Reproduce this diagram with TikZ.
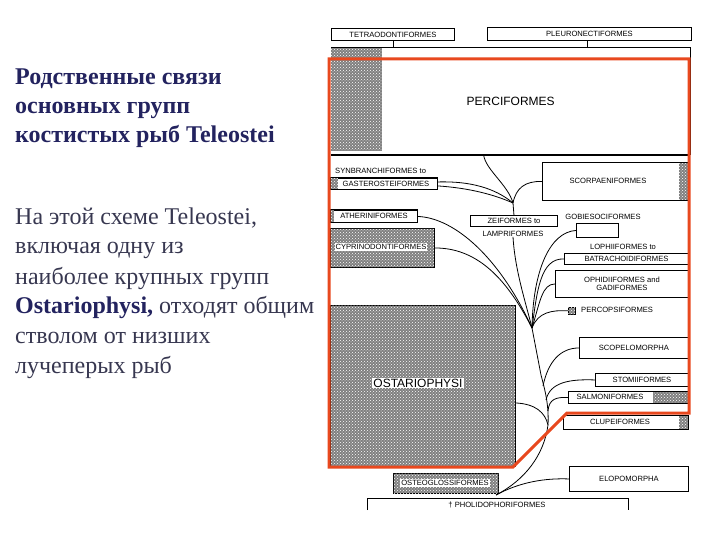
\documentclass[tikz,border=0pt]{standalone}
\usepackage{fontspec}
\setmainfont{Liberation Serif}
\newfontfamily\diagfont{Liberation Sans}
\usetikzlibrary{patterns}
\definecolor{redline}{RGB}{232,72,30}
\definecolor{navy}{RGB}{35,35,95}
\definecolor{bodytxt}{RGB}{55,55,80}
\tikzset{
  box/.style={draw, line width=0.9pt, inner sep=0pt, anchor=north west, align=center,
    font=\diagfont\fontsize{7.6}{8.6}\selectfont},
  hatch/.style={fill=black!50, postaction={pattern=crosshatch dots, pattern color=white}},
  lbl/.style={inner sep=0pt, font=\diagfont\fontsize{7.6}{8.6}\selectfont},
  wlbl/.style={lbl, fill=white, inner sep=1pt},
  branch/.style={line width=0.8pt},
  ttl/.style={anchor=base west, inner sep=0pt, font=\bfseries\fontsize{24}{28}\selectfont, text=navy},
  bodyline/.style={anchor=base west, inner sep=0pt, font=\fontsize{24}{28}\selectfont, text=bodytxt},
}
\begin{document}
\begin{tikzpicture}[x=1pt,y=-1pt]
\useasboundingbox (0,0) rectangle (720,540);

% ---------- left text ----------
\node[ttl] (t1) at (15,85) {Родственные связи};
\node[ttl] (t2) at (15,114) {основных групп};
\node[ttl] (t3) at (15,143) {костистых рыб Teleostei};
\node[bodyline] (b1) at (15,225) {На этой схеме Teleostei,};
\node[bodyline] (b2) at (15,254) {включая одну из};
\node[bodyline] (b3) at (15,284) {наиболее крупных групп};
\node[bodyline] (b4) at (15,313) {\textbf{\color{navy}Ostariophysi,} отходят общим};
\node[bodyline] (b5) at (15,343) {стволом от низших};
\node[bodyline] (b6) at (15,373) {лучеперых рыб};

% ---------- top boxes ----------
\node[box, minimum width=123pt, minimum height=12pt] (tetra) at (331,28) {TETRAODONTIFORMES};
\node[box, minimum width=204pt, minimum height=13pt] (pleuro) at (487,27) {PLEURONECTIFORMES};

% Perciformes
\node[inner sep=0pt, anchor=north west, minimum width=359pt, minimum height=108pt,
      font=\diagfont\fontsize{12}{14}\selectfont] (perc) at (331,47) {PERCIFORMES};
\fill[hatch] (perc.north west) rectangle ++(51,104);
\draw[line width=0.6pt] (perc.north west) -- (perc.north east) -- (perc.south east);
\draw[line width=2pt] (perc.south west) -- (perc.south east);
\draw[line width=0.8pt] (tetra.south) -- (tetra.south |- perc.north);
\draw[line width=0.8pt] ([xshift=-2pt]pleuro.south) -- ([xshift=-2pt]pleuro.south |- perc.north);

% Scorpaeniformes
\node[box, minimum width=146pt, minimum height=38pt] (scorp) at (542,162) {};
\fill[hatch] ([xshift=-10pt]scorp.north east) rectangle (scorp.south east);
\draw[line width=0.9pt] (scorp.north west) rectangle (scorp.south east);
\node[lbl] (scorpl) at (608,181) {SCORPAENIFORMES};

% Gasterosteiformes
\node[lbl, anchor=west] (synbr) at (335,171) {SYNBRANCHIFORMES to};
\node[box, minimum width=107pt, minimum height=11pt] (gaster) at (330,178) {};
\fill[hatch] (gaster.north west) rectangle ([xshift=8pt]gaster.south west);
\draw[line width=1pt] (gaster.north west) rectangle (gaster.south east);
\node[lbl] (gasterl) at (386,184) {GASTEROSTEIFORMES};

% Atheriniformes
\node[box, minimum width=87pt, minimum height=12pt] (ather) at (330,210) {};
\fill[hatch] (ather.north west) rectangle ([xshift=4pt]ather.south west);
\draw[line width=1pt] (ather.north west) rectangle (ather.south east);
\node[lbl] (atherl) at (374,216) {ATHERINIFORMES};

% Cyprinodontiformes
\node[box, hatch, minimum width=104pt, minimum height=39pt] (cypr) at (330,228) {};
\node[wlbl] (cyprl) at (381,247) {CYPRINODONTIFORMES};

% Ostariophysi
\node[box, hatch, minimum width=185pt, minimum height=161pt] (ostar) at (330,305) {};
\node[wlbl, font=\diagfont\fontsize{12}{14}\selectfont] (ostarl) at (418,383) {OSTARIOPHYSI};

% Zeiformes / Lampriformes
\node[box, minimum width=87pt, minimum height=11pt] (zei) at (470,215) {ZEIFORMES to};
\node[lbl] (lampri) at (513,234) {LAMPRIFORMES};

% Gobiesociformes
\node[lbl] (gobiel) at (603,217) {GOBIESOCIFORMES};
\node[box, minimum width=42pt, minimum height=14pt] (gobie) at (576,223) {};

% Lophiiformes / Batrachoidiformes
\node[lbl] (lophi) at (623,247) {LOPHIIFORMES to};
\node[box, minimum width=124pt, minimum height=11pt] (batra) at (564,253) {BATRACHOIDIFORMES};

% Ophidiiformes and Gadiformes
\node[box, minimum width=133pt, minimum height=27pt] (ophid) at (555,270) {OPHIDIIFORMES and\\GADIFORMES};

% Percopsiformes
\node[box, hatch, minimum width=7pt, minimum height=7pt, line width=0.6pt] (percop) at (568,307) {};
\node[lbl, anchor=west] (percopl) at (581,310) {PERCOPSIFORMES};

% Scopelomorpha
\node[box, minimum width=109pt, minimum height=21pt] (scop) at (579,337) {SCOPELOMORPHA};

% Stomiiformes
\node[box, minimum width=93pt, minimum height=13pt] (stomi) at (595,373) {STOMIIFORMES};

% Salmoniformes
\node[box, minimum width=120pt, minimum height=12pt] (salmo) at (568,391) {};
\fill[hatch] ([xshift=-36pt]salmo.north east) rectangle (salmo.south east);
\draw[line width=0.9pt] (salmo.north west) rectangle (salmo.south east);
\node[lbl] (salmol) at (610,397) {SALMONIFORMES};

% Clupeiformes
\node[box, minimum width=125pt, minimum height=14pt] (clupe) at (563,415) {};
\fill[hatch] ([xshift=-10pt]clupe.north east) rectangle (clupe.south east);
\draw[line width=0.9pt] (clupe.north west) rectangle (clupe.south east);
\node[lbl] (clupel) at (620,422) {CLUPEIFORMES};

% Elopomorpha
\node[box, minimum width=119pt, minimum height=25pt] (elopo) at (569,466) {ELOPOMORPHA};

% Osteoglossiformes
\node[box, hatch, minimum width=105pt, minimum height=20pt] (osteo) at (393,473) {};
\node[wlbl] (osteol) at (445,483) {OSTEOGLOSSIFORMES};

% Pholidophoriformes bracket
\coordinate (phl) at (367,510);
\coordinate (phr) at (628,510);
\draw[line width=0.9pt] (phl) -- (367,498) -- (628,498) -- (phr);
\node[lbl] (pholi) at (497,505) {† PHOLIDOPHORIFORMES};

% ---------- tree ----------
\coordinate (b0) at (496,495);
\coordinate (tA) at (548,425);
\coordinate (tS) at (548,411);
\coordinate (tT) at (546,400);
\coordinate (tC) at (543,386);
\coordinate (tB) at (541,375);
\coordinate (n1) at (532,328);
\coordinate (n2) at (513,203);

\draw[branch] (b0) .. controls (525,480) and (544,455) .. (tA)
  .. controls (549,405) and (545,390) .. (tB) -- (n1);
\draw[branch] (b0) .. controls (520,482) and (545,478) .. (elopo.west);
\draw[branch] ([yshift=-17pt]ostar.east) .. controls (535,404) and (545,412) .. (tA);
\draw[branch] (tS) .. controls (549,399) and (556,397) .. (salmo.west);
\draw[branch] (tT) .. controls (550,382) and (570,379) .. (stomi.west);
\draw[branch] (tC) .. controls (548,362) and (560,348) .. (scop.west);
\draw[branch] (n1) .. controls (538,312) and (552,310) .. (percop.west);
\draw[branch] (n1) .. controls (540,302) and (542,284) .. (ophid.west);
\draw[branch] (n1) .. controls (537,292) and (540,258) .. (batra.west);
\draw[branch] (n1) .. controls (533,270) and (550,232) .. (gobie.west);
\draw[branch] (n1) .. controls (525,300) and (515,270) .. (lampri.south);
\draw[branch] (cypr.east) .. controls (475,248) and (505,275) .. (n1);
\draw[branch] (ather.east) .. controls (455,218) and (500,258) .. (n1);

\draw[branch] (zei.north) -- (n2);
\draw[branch] ([yshift=2pt]gaster.east) .. controls (470,181) and (495,188) .. (n2);
\draw[branch] ([yshift=-2pt]gaster.east) .. controls (470,188) and (495,195) .. (n2);
\draw[branch] (n2) .. controls (516,188) and (525,181) .. (scorp.west);
\draw[branch] (n2) .. controls (508,185) and (486,170) .. ([xshift=-27pt]perc.south);

% ---------- red outline ----------
\draw[redline, line width=3pt, line join=miter]
  (329,59) -- (689,59) -- (689,413) -- (567,413) -- (513,467) -- (329,467) -- cycle;
\end{tikzpicture}
\end{document}
